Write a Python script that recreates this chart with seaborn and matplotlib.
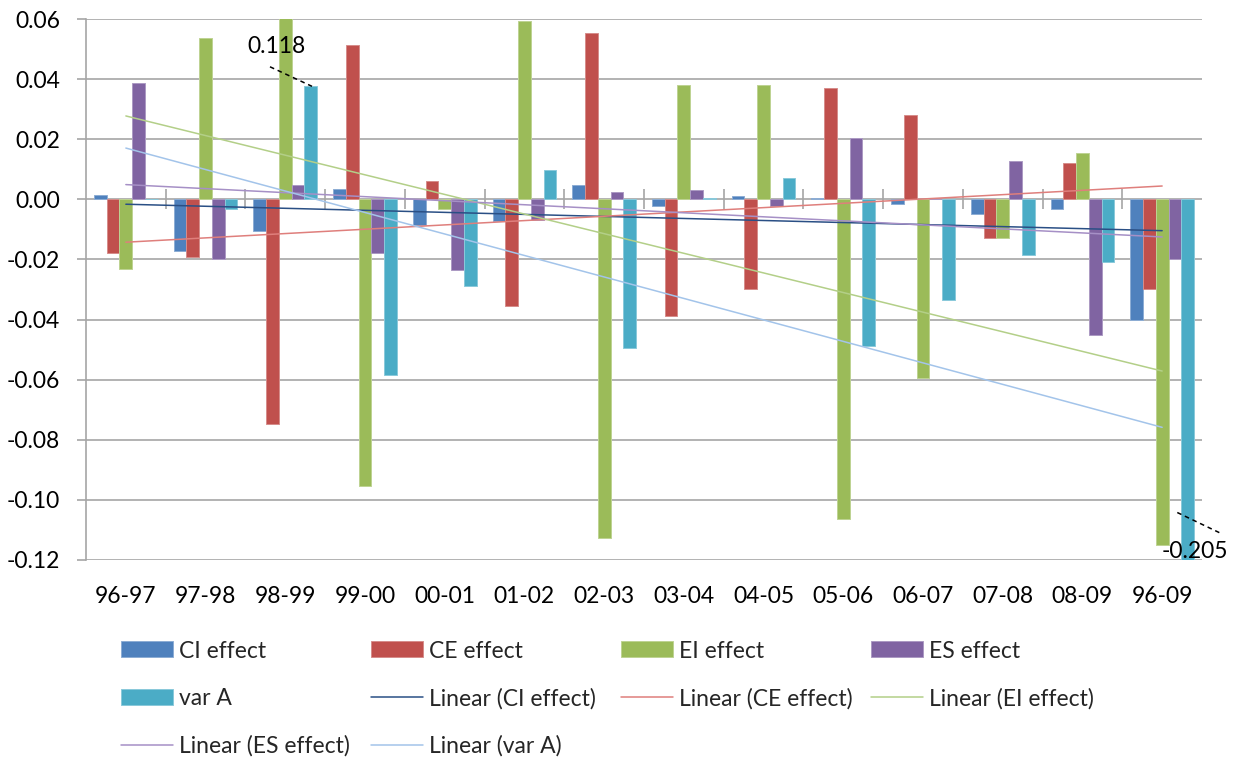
import numpy as np
import pandas as pd
import matplotlib
matplotlib.use("Agg")
import matplotlib.pyplot as plt
import seaborn as sns
from matplotlib.patches import Patch
from matplotlib.lines import Line2D
from matplotlib.colors import to_rgb
from matplotlib.ticker import FormatStrFormatter

# ---- data -------------------------------------------------------------
periods = ["96-97", "97-98", "98-99", "99-00", "00-01", "01-02", "02-03",
           "03-04", "04-05", "05-06", "06-07", "07-08", "08-09", "96-09"]
series_names = ["CI effect", "CE effect", "EI effect", "ES effect", "var A"]

ci_effect = [0.0015, -0.0173, -0.0105, 0.0035, -0.0086, -0.0072, 0.0048,
             -0.0023, 0.0010, 0.0004, -0.0015, -0.0049, -0.0031, -0.0402]
ce_effect = [-0.0177, -0.0191, -0.0748, 0.0514, 0.0060, -0.0354, 0.0554,
             -0.0389, -0.0299, 0.0369, 0.0280, -0.0128, 0.0120, -0.0299]
ei_effect = [-0.0231, 0.0536, 0.118, -0.0954, -0.0031, 0.0593, -0.1128,
             0.0381, 0.0381, -0.1065, -0.0595, -0.0128, 0.0154, -0.1150]
es_effect = [0.0388, -0.0200, 0.0048, -0.0180, -0.0235, -0.0068, 0.0026,
             0.0030, -0.0023, 0.0205, 0.0000, 0.0128, -0.0452, -0.0200]
var_a = [0.0000, -0.0032, 0.0378, -0.0583, -0.0290, 0.0098, -0.0493,
         0.0004, 0.0072, -0.0489, -0.0336, -0.0185, -0.0210, -0.205]

yticks = [-0.12, -0.10, -0.08, -0.06, -0.04, -0.02, 0.00, 0.02, 0.04, 0.06]

# values shown as text for the bars that run off the chart
top_label = "0.118"
bottom_label = "-0.205"

# ---- style --------------------------------------------------------------
bar_colors = ["#4F81BD", "#C0504D", "#9BBB59", "#8064A2", "#4BACC6"]
trend_colors = ["#2A4F85", "#DF7F7C", "#B3CF88", "#A690C6", "#A3C4EA"]
grid_c = "#A6A6A6"
FS = 16.5

sns.set_style("white")
plt.rcParams["font.family"] = ["Lato", "DejaVu Sans"]

W, H = 1239, 759
fig = plt.figure(figsize=(W / 100, H / 100), dpi=100)
ax = fig.add_axes([86 / W, 1 - 560 / H, 1116 / W, 541 / H])

all_series = [ci_effect, ce_effect, ei_effect, es_effect, var_a]
df = pd.DataFrame({
    "period": np.tile(periods, len(series_names)),
    "series": np.repeat(series_names, len(periods)),
    "value": np.concatenate(all_series),
})


def lighten(c, f=0.35):
    r, g, b = to_rgb(c)
    return (r + (1 - r) * f, g + (1 - g) * f, b + (1 - b) * f)


sns.barplot(data=df, x="period", y="value", hue="series",
            order=periods, hue_order=series_names, palette=bar_colors,
            saturation=1, width=0.8, errorbar=None, legend=False,
            ax=ax, zorder=2)
for bar in ax.patches:
    bar.set_edgecolor(lighten(bar.get_facecolor()))
    bar.set_linewidth(0.7)

# linear trend lines for each series
idx = np.arange(len(periods))
for vals, col in zip(all_series, trend_colors):
    sns.regplot(x=idx, y=np.array(vals), ax=ax, scatter=False, ci=None,
                truncate=True, line_kws=dict(color=col, lw=1.1, zorder=3))

# ---- axes -----------------------------------------------------------------
ax.set_xlim(-0.5, len(periods) - 0.5)
ax.set_ylim(yticks[0], yticks[-1])
ax.set_yticks(yticks)
ax.yaxis.set_major_formatter(FormatStrFormatter("%.2f"))
ax.set_xticks(idx)
ax.set_xticklabels(periods)
ax.set_xlabel("")
ax.set_ylabel("")
ax.set_axisbelow(True)
ax.yaxis.grid(True, color=grid_c, lw=1.2)
ax.xaxis.grid(False)
for s in ["top", "right", "bottom"]:
    ax.spines[s].set_visible(False)
ax.spines["left"].set_color(grid_c)
ax.spines["left"].set_linewidth(1.2)
ax.tick_params(axis="y", left=True, length=6.5, width=1.2, color=grid_c,
               pad=12, labelsize=FS, labelcolor="black")
ax.tick_params(axis="x", bottom=False, length=0, pad=18.5, labelsize=FS,
               labelcolor="black")

# category divider ticks crossing the zero line
zero_frac = (0 - yticks[0]) / (yticks[-1] - yticks[0])
sec = ax.secondary_xaxis(zero_frac)
sec.set_xticks(np.arange(0.5, len(periods) - 1, 1.0))
sec.set_xticklabels([])
sec.tick_params(direction="inout", length=14, width=1.2, color=grid_c)
for sp in sec.spines.values():
    sp.set_visible(False)

# ---- value labels for the clipped bars ------------------------------------
dash = (0, (3, 2.5))
ax.text(1.884, 0.0509, top_label, ha="center", va="center", fontsize=FS,
        color="black", zorder=6)
ax.plot([1.808, 2.335], [0.0441, 0.0376], ls=dash, color="black", lw=1.1,
        zorder=6, clip_on=False)
ax.text(13.413, -0.1173, bottom_label, ha="center", va="center", fontsize=FS,
        color="black", zorder=6, clip_on=False)
ax.plot([13.19, 13.718], [-0.1042, -0.1109], ls=dash, color="black", lw=1.1,
        zorder=6, clip_on=False)

# ---- legend (row-major, four equal columns) --------------------------------
handles = [Patch(facecolor=c, edgecolor=lighten(c), lw=0.7) for c in bar_colors]
handles += [Line2D([], [], color=c, lw=1.1) for c in trend_colors]
labels = series_names + [f"Linear ({n})" for n in series_names]

fs_px = FS * 100 / 72
for k, (h, lab) in enumerate(zip(handles, labels)):
    row, col = divmod(k, 4)
    x_px = 121 + 250 * col
    y_px = 651 + 47.5 * row
    fig.legend(handles=[h], labels=[lab], loc="center left",
               bbox_to_anchor=(x_px / W, 1 - y_px / H), frameon=False,
               borderpad=0, borderaxespad=0, fontsize=FS,
               handlelength=52 / fs_px, handleheight=16 / fs_px,
               handletextpad=6 / fs_px)

fig.savefig("out.png", dpi=100, facecolor="white")
